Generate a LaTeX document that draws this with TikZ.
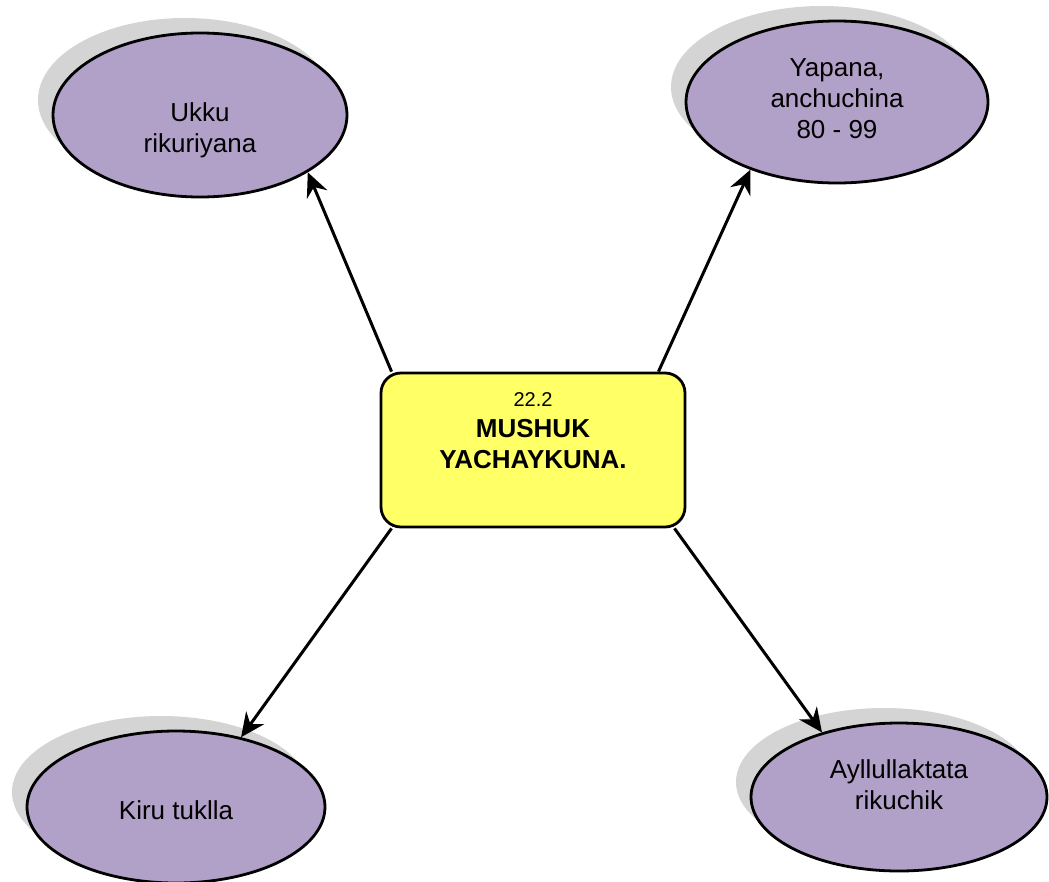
\documentclass[tikz,border=0pt]{standalone}
\usepackage{fontspec}
\setmainfont{Liberation Sans}
\usetikzlibrary{shapes.geometric, shadows, arrows.meta}

\definecolor{bubblepurple}{RGB}{177,160,199}
\definecolor{shadowgray}{RGB}{212,212,212}
\definecolor{hubyellow}{RGB}{255,255,102}

\begin{document}
\begin{tikzpicture}[x=1pt, y=-1pt,
    bubble/.style={ellipse, draw, line width=2.8pt, fill=bubblepurple, inner sep=0pt,
        drop shadow={shadow xshift=-15pt, shadow yshift=15pt, fill=shadowgray, opacity=1}},
    bubbletext/.style={align=center, font=\fontsize{26}{31}\selectfont},
    hubbox/.style={rectangle, rounded corners=20pt, draw, line width=2.8pt, fill=hubyellow,
        minimum width=304pt, minimum height=154pt, inner sep=0pt},
    link/.style={line width=3pt, -{Stealth[length=24pt, width=22pt, inset=8pt]}}]
    \useasboundingbox (0,0) rectangle (1049,881);

    % The four ellipses with their shadows
    \node[bubble, minimum width=294pt, minimum height=164pt] (ukku) at (200,115) {};
    \node[bubble, minimum width=302pt, minimum height=162pt] (yapana) at (837,102) {};
    \node[bubble, minimum width=298pt, minimum height=152pt] (kiru) at (176,807) {};
    \node[bubble, minimum width=296pt, minimum height=148pt] (ayllu) at (899,797) {};

    % Texts in the ellipses
    \node[bubbletext] (ukkutext) at (200,130) {Ukku\\rikuriyana};
    \node[bubbletext] (yapanatext) at (837,99) {Yapana,\\anchuchina\\80 - 99};
    \node[bubbletext] (kirutext) at (176,810) {Kiru tuklla};
    \node[bubbletext] (ayllutext) at (899,785) {Ayllullaktata\\rikuchik};

    % The centre box
    \node[hubbox] (hub) at (533,450) {};
    \node[align=center, font=\bfseries\fontsize{26}{31}\selectfont] (hubtext) at (533,431)
        {{\mdseries\fontsize{20}{24}\selectfont 22.2}\\MUSHUK\\YACHAYKUNA.};

    % Arrows from the box to the ellipses
    \foreach \from/\to in {151/ukku.332, 32/yapana.218, 209/kiru.47, 331/ayllu.140}
        \draw[link] (hub.\from) -- (\to);
\end{tikzpicture}
\end{document}
